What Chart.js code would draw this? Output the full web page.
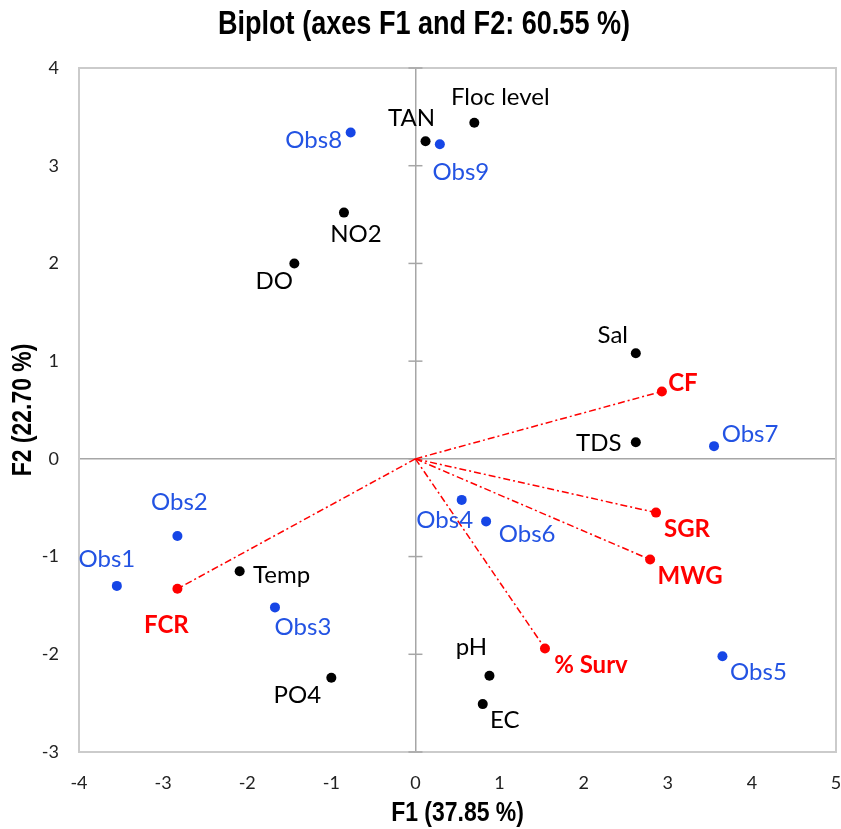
<!DOCTYPE html>
<html>
<head>
<meta charset="utf-8">
<script src="https://cdn.jsdelivr.net/npm/chart.js@4"></script>
<style>
  html, body { margin: 0; padding: 0; background: #fff; }
  #wrap { width: 841px; height: 829px; }
</style>
</head>
<body>
<div id="wrap"><canvas id="chart" width="841" height="829"></canvas></div>
<script>
// active variables (black)
const varNames = ["Floc level", "TAN", "NO2", "DO", "Sal", "TDS", "Temp", "PO4", "pH", "EC"];
const varF1 = [0.70, 0.12, -0.85, -1.44, 2.62, 2.62, -2.09, -1.00, 0.88, 0.80];
const varF2 = [3.44, 3.25, 2.52, 2.00, 1.08, 0.17, -1.15, -2.24, -2.22, -2.51];

// supplementary variables (red, with vectors)
const suppNames = ["CF", "SGR", "MWG", "% Surv", "FCR"];
const suppF1 = [2.93, 2.86, 2.79, 1.54, -2.83];
const suppF2 = [0.69, -0.55, -1.03, -1.94, -1.33];

// observations (blue)
const obsNames = ["Obs1", "Obs2", "Obs3", "Obs4", "Obs5", "Obs6", "Obs7", "Obs8", "Obs9"];
const obsF1 = [-3.55, -2.83, -1.67, 0.55, 3.65, 0.84, 3.55, -0.77, 0.29];
const obsF2 = [-1.30, -0.79, -1.52, -0.42, -2.02, -0.64, 0.13, 3.34, 3.22];

const xTicks = [-4, -3, -2, -1, 0, 1, 2, 3, 4, 5];
const yTicks = [-3, -2, -1, 0, 1, 2, 3, 4];

const chartTitle = "Biplot (axes F1 and F2: 60.55 %)";
const xTitle = "F1 (37.85 %)";
const yTitle = "F2 (22.70 %)";

// where each label sits relative to its dot (px)
const varLabelPos = [[26,-25],[-14,-23],[12,22],[-20,18],[-23,-18],[-37,1],[42,4],[-34,18],[-18,-29],[22,16]];
const suppLabelPos = [[21,-8],[31,17],[40,17],[46,17],[-11,36]];
const obsLabelPos = [[-10,-27],[2,-34],[28,20],[-17,20],[36,16],[41,13],[36,-12],[-37,8],[21,28]];

const BLUE = "#1646e6";
const BLUE_TXT = "#2353e3";
const RED = "#ff0000";
const TITLE_FONT = "'Liberation Sans', Arial, sans-serif";
const LABEL_FONT = "Lato, 'Open Sans', sans-serif";

function toPoints(xs, ys) {
    return xs.map((x, i) => ({x: x, y: ys[i]}));
}

const datasets = [
    {label: "vars", data: toPoints(varF1, varF2), names: varNames, pos: varLabelPos,
     backgroundColor: "#000", txtColor: "#000", bold: false, order: 0},
    {label: "supp", data: toPoints(suppF1, suppF2), names: suppNames, pos: suppLabelPos,
     backgroundColor: RED, txtColor: RED, bold: true, order: 0},
    {label: "obs", data: toPoints(obsF1, obsF2), names: obsNames, pos: obsLabelPos,
     backgroundColor: BLUE, txtColor: BLUE_TXT, bold: false, order: 0}
];
datasets.forEach(d => { d.pointRadius = 5; d.pointBorderWidth = 0; d.pointHoverRadius = 5; });

// vectors from origin to supplementary points
suppF1.forEach((x, i) => {
    datasets.push({
        label: "vec" + i,
        data: [{x: 0, y: 0}, {x: x, y: suppF2[i]}],
        showLine: true,
        borderColor: RED,
        borderWidth: 1.5,
        borderDash: [7, 3, 2, 3],
        pointRadius: 0,
        order: 5
    });
});

const framePlugin = {
    id: "frame",
    beforeDatasetsDraw(chart) {
        const {ctx, chartArea: a, scales} = chart;
        ctx.save();
        ctx.strokeStyle = "#cbcbcb";
        ctx.lineWidth = 2;
        ctx.strokeRect(a.left, a.top, a.right - a.left, a.bottom - a.top);
        // small ticks across the vertical zero axis
        const x0 = scales.x.getPixelForValue(0);
        ctx.strokeStyle = "#a6a6a6";
        ctx.lineWidth = 1.5;
        scales.y.ticks.forEach(t => {
            const py = scales.y.getPixelForValue(t.value);
            ctx.beginPath();
            ctx.moveTo(x0 - 7, py);
            ctx.lineTo(x0 + 7, py);
            ctx.stroke();
        });
        ctx.restore();
    }
};

// narrow bold text (no Arial Narrow installed, so squeeze Liberation Sans)
function narrowText(ctx, text, x, y, size, rot) {
    ctx.save();
    ctx.translate(x, y);
    if (rot) ctx.rotate(rot);
    ctx.scale(0.82, 1);
    ctx.font = "bold " + size + "px " + TITLE_FONT;
    ctx.fillStyle = "#000";
    ctx.textAlign = "center";
    ctx.textBaseline = "middle";
    ctx.fillText(text, 0, 0);
    ctx.restore();
}

const titlePlugin = {
    id: "titles",
    afterDraw(chart) {
        const {ctx, chartArea: a} = chart;
        const cx = (a.left + a.right) / 2;
        const cy = (a.top + a.bottom) / 2;
        narrowText(ctx, chartTitle, 424, 25, 33, 0);
        narrowText(ctx, xTitle, cx, 813, 28, 0);
        narrowText(ctx, yTitle, 23, cy, 28, -Math.PI / 2);
    }
};

const labelPlugin = {
    id: "pointLabels",
    afterDatasetsDraw(chart) {
        const ctx = chart.ctx;
        ctx.save();
        ctx.textAlign = "center";
        ctx.textBaseline = "middle";
        chart.data.datasets.forEach((ds, di) => {
            if (!ds.names) return;
            const meta = chart.getDatasetMeta(di);
            ctx.font = (ds.bold ? "bold " : "") + "24px " + LABEL_FONT;
            ctx.fillStyle = ds.txtColor;
            meta.data.forEach((el, i) => {
                ctx.fillText(ds.names[i], el.x + ds.pos[i][0], el.y + ds.pos[i][1]);
            });
        });
        ctx.restore();
    }
};

function zeroLine(c) {
    return c.tick && c.tick.value === 0 ? "#a6a6a6" : "rgba(0,0,0,0)";
}

new Chart(document.getElementById("chart"), {
    type: "scatter",
    data: {datasets: datasets},
    options: {
        responsive: false,
        animation: false,
        events: [],
        layout: {padding: {left: 0, right: 4, top: 68, bottom: 0}},
        plugins: {
            legend: {display: false},
            tooltip: {enabled: false},
            title: {display: false}
        },
        scales: {
            x: {
                type: "linear",
                min: -4, max: 5,
                afterBuildTicks: s => { s.ticks = xTicks.map(v => ({value: v})); },
                afterFit: s => { s.height = 77; s.paddingLeft = 0; s.paddingRight = 0; },
                grid: {color: zeroLine, lineWidth: 1.5, drawTicks: false},
                border: {display: false},
                ticks: {color: "#222", padding: 20, font: {family: LABEL_FONT, size: 18}}
            },
            y: {
                type: "linear",
                min: -3, max: 4,
                afterBuildTicks: s => { s.ticks = yTicks.map(v => ({value: v})); },
                afterFit: s => { s.width = 79; s.paddingTop = 0; s.paddingBottom = 0; },
                grid: {color: zeroLine, lineWidth: 1.5, drawTicks: false},
                border: {display: false},
                ticks: {color: "#222", padding: 20, font: {family: LABEL_FONT, size: 18}}
            }
        }
    },
    plugins: [framePlugin, labelPlugin, titlePlugin]
});
</script>
</body>
</html>
